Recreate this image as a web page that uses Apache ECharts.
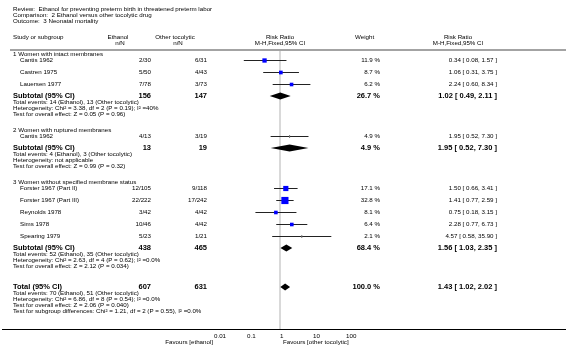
<!DOCTYPE html>
<html>
<head>
<meta charset="utf-8">
<script src="https://cdn.jsdelivr.net/npm/echarts@6/dist/echarts.min.js"></script>
<style>
  html, body { margin: 0; padding: 0; background: #fff; }
  #grafico { width: 566px; height: 348px; }
</style>
</head>
<body>
<div id="grafico"></div>
<script>
// ---- data ----
var groupNames = ['1 Women with intact membranes', '2 Women with ruptured membranes', '3 Women without specified membrane status'];
var studyNames = ['Cantis 1962', 'Castren 1975', 'Lauersen 1977', 'Cantis 1962', 'Forster 1967 (Part II)', 'Forster 1967 (Part III)', 'Reynolds 1978', 'Sims 1978', 'Spearing 1979'];
var studyGroup = [0, 0, 0, 1, 2, 2, 2, 2, 2];
var ethanolEvents = ['2/30', '5/50', '7/78', '4/13', '12/105', '22/222', '3/42', '10/46', '5/23'];
var otherEvents = ['6/31', '4/43', '3/73', '3/19', '9/118', '17/242', '4/42', '4/42', '1/21'];
var studyWeight = [11.9, 8.7, 6.2, 4.9, 17.1, 32.8, 8.1, 6.4, 2.1];
var studyRR = [0.34, 1.06, 2.24, 1.95, 1.50, 1.41, 0.75, 2.28, 4.57];
var studyLow = [0.08, 0.31, 0.60, 0.52, 0.66, 0.77, 0.18, 0.77, 0.58];
var studyHigh = [1.57, 3.75, 8.34, 7.30, 3.41, 2.59, 3.15, 6.73, 35.90];

var subLabels = ['Subtotal (95% CI)', 'Subtotal (95% CI)', 'Subtotal (95% CI)', 'Total (95% CI)'];
var subEthanolN = [156, 13, 438, 607];
var subOtherN = [147, 19, 465, 631];
var subWeight = [26.7, 4.9, 68.4, 100.0];
var subRR = [1.02, 1.95, 1.56, 1.43];
var subLow = [0.49, 0.52, 1.03, 1.02];
var subHigh = [2.11, 7.30, 2.35, 2.02];
var subNotes = [
  ['Total events: 14 (Ethanol), 13 (Other tocolytic)', 'Heterogeneity: Chi² = 3.38, df = 2 (P = 0.19); I² =40%', 'Test for overall effect: Z = 0.05 (P = 0.96)'],
  ['Total events: 4 (Ethanol), 3 (Other tocolytic)', 'Heterogeneity: not applicable', 'Test for overall effect: Z = 0.99 (P = 0.32)'],
  ['Total events: 52 (Ethanol), 35 (Other tocolytic)', 'Heterogeneity: Chi² = 2.63, df = 4 (P = 0.62); I² =0.0%', 'Test for overall effect: Z = 2.12 (P = 0.034)'],
  ['Total events: 70 (Ethanol), 51 (Other tocolytic)', 'Heterogeneity: Chi² = 6.86, df = 8 (P = 0.54); I² =0.0%', 'Test for overall effect: Z = 2.06 (P = 0.040)', 'Test for subgroup differences: Chi² = 1.21, df = 2 (P = 0.55), I² =0.0%']
];
var tickLabels = ['0.01', '0.1', '1', '10', '100'];

// ---- layout ----
var FONT = "'Liberation Sans', Arial, sans-serif";
var SMALL = 6.2, BIG = 7.5;
var texts = [];
var studyRows = [];
var subRows = [];
function t(s, x, y, align, size, bold) {
  texts.push({ s: s, x: x, y: y, align: align || 'left', size: size || SMALL, bold: !!bold });
}
function fmtCI(i, rr, lo, hi) {
  return rr[i].toFixed(2) + ' [ ' + lo[i].toFixed(2) + ', ' + hi[i].toFixed(2) + ' ]';
}

t('Review:  Ethanol for preventing preterm birth in threatened preterm labor', 13, 9);
t('Comparison:  2 Ethanol versus other tocolytic drug', 13, 15);
t('Outcome:  3 Neonatal mortality', 13, 21);
t('Study or subgroup', 13, 37);
t('Ethanol', 118, 37, 'center'); t('n/N', 120, 43.5, 'center');
t('Other tocolytic', 175, 37, 'center'); t('n/N', 178, 43.5, 'center');
t('Risk Ratio', 280, 37, 'center'); t('M-H,Fixed,95% CI', 280, 43.5, 'center');
t('Weight', 355, 37);
t('Risk Ratio', 458, 37, 'center'); t('M-H,Fixed,95% CI', 458, 43.5, 'center');

function subtotal(k, y) {
  t(subLabels[k], 13, y, 'left', BIG, true);
  t(String(subEthanolN[k]), 151, y, 'right', BIG, true);
  t(String(subOtherN[k]), 207, y, 'right', BIG, true);
  t(subWeight[k].toFixed(1) + ' %', 380, y, 'right', BIG, true);
  t(fmtCI(k, subRR, subLow, subHigh), 497, y, 'right', BIG, true);
  subRows.push({ k: k, y: y });
  subNotes[k].forEach(function (n) { y += 6; t(n, 13, y); });
  return y;
}

var y = 54;
for (var g = 0; g < groupNames.length; g++) {
  t(groupNames[g], 13, y);
  y += 6;
  for (var i = 0; i < studyNames.length; i++) {
    if (studyGroup[i] !== g) continue;
    t(studyNames[i], 20, y);
    t(ethanolEvents[i], 151, y, 'right');
    t(otherEvents[i], 207, y, 'right');
    t(studyWeight[i].toFixed(1) + ' %', 380, y, 'right');
    t(fmtCI(i, studyRR, studyLow, studyHigh), 497, y, 'right');
    studyRows.push({ i: i, y: y });
    y += 12;
  }
  y = subtotal(g, y) + 16;
}
subtotal(3, y + 5);

t('Favours [ethanol]', 213, 342, 'right');
t('Favours [other tocolytic]', 283, 342);

var rules = [
  [10, 50, 566, 50, '#a3a3a3', 2],
  [2, 329.5, 566, 329.5, '#000', 1]
];

// ---- render helpers ----
function renderText(params, api) {
  var d = texts[params.dataIndex];
  var p = api.coord([d.x, d.y]);
  return {
    type: 'text', x: p[0], y: p[1], silent: true,
    style: {
      text: d.s, fill: '#000',
      align: d.align, textAlign: d.align,
      verticalAlign: 'middle', textVerticalAlign: 'middle',
      font: (d.bold ? 'bold ' : '') + d.size + 'px ' + FONT
    }
  };
}
function renderRule(params, api) {
  var r = rules[params.dataIndex];
  var a = api.coord([r[0], r[1]]), b = api.coord([r[2], r[3]]);
  return { type: 'line', shape: { x1: a[0], y1: a[1], x2: b[0], y2: b[1] }, style: { stroke: r[4], lineWidth: r[5] } };
}
function renderStudy(params, api) {
  var rr = api.value(0), yy = api.value(1), lo = api.value(2), hi = api.value(3), w = api.value(4);
  var a = api.coord([lo, yy]), b = api.coord([hi, yy]), c = api.coord([rr, yy]);
  var kids = [{ type: 'line', shape: { x1: a[0], y1: a[1] + 0.5, x2: b[0], y2: b[1] + 0.5 }, style: { stroke: '#222', lineWidth: 1 } }];
  if (w >= 5) {
    var s = Math.max(3.6, 1.25 * Math.sqrt(w));
    kids.push({ type: 'rect', shape: { x: c[0] - s / 2, y: c[1] + 0.5 - s / 2, width: s, height: s }, style: { fill: '#0000ff' } });
  } else {
    kids.push({ type: 'rect', shape: { x: c[0] - 0.5, y: c[1] - 1, width: 1, height: 3 }, style: { fill: '#777' } });
  }
  return { type: 'group', children: kids };
}
function renderDiamond(params, api) {
  var rr = api.value(0), yy = api.value(1), lo = api.value(2), hi = api.value(3);
  var a = api.coord([lo, yy]), b = api.coord([hi, yy]), c = api.coord([rr, yy]);
  var h = 3.5;
  return {
    type: 'polygon',
    shape: { points: [[a[0], a[1]], [c[0], c[1] - h], [b[0], b[1]], [c[0], c[1] + h]] },
    style: { fill: '#000' }
  };
}

var chartDom = document.getElementById('grafico');
var myChart = echarts.init(chartDom, null, { renderer: 'canvas' });
var option = {
  animation: false,
  backgroundColor: '#fff',
  grid: [
    { left: 0, top: 0, width: 566, height: 348 },
    { left: 214, top: 51, width: 132, height: 278 }
  ],
  xAxis: [
    { gridIndex: 0, type: 'value', min: 0, max: 566, show: false },
    {
      gridIndex: 1, type: 'log', logBase: 10, min: 0.01, max: 100,
      axisLine: { show: false }, axisTick: { show: false }, splitLine: { show: false },
      axisLabel: {
        margin: 4, fontSize: SMALL, fontFamily: FONT, color: '#000', align: 'left',
        formatter: function (v) { return tickLabels[Math.round(Math.log10(v)) + 2]; }
      }
    }
  ],
  yAxis: [
    { gridIndex: 0, type: 'value', min: 0, max: 348, inverse: true, show: false },
    { gridIndex: 1, type: 'value', min: 51, max: 329, inverse: true, show: false }
  ],
  series: [
    {
      type: 'line', xAxisIndex: 1, yAxisIndex: 1, data: [[1, 51], [1, 329]],
      symbol: 'none', silent: true, z: 1,
      lineStyle: { color: '#d9d9d9', width: 2 }
    },
    {
      type: 'custom', xAxisIndex: 0, yAxisIndex: 0, silent: true, z: 2,
      renderItem: renderRule,
      data: rules.map(function (r) { return [r[0], r[1]]; })
    },
    {
      type: 'custom', xAxisIndex: 1, yAxisIndex: 1, silent: true, z: 3,
      renderItem: renderStudy,
      encode: { x: [0, 2, 3], y: 1 },
      data: studyRows.map(function (r) { return [studyRR[r.i], r.y, studyLow[r.i], studyHigh[r.i], studyWeight[r.i]]; })
    },
    {
      type: 'custom', xAxisIndex: 1, yAxisIndex: 1, silent: true, z: 3,
      renderItem: renderDiamond,
      encode: { x: [0, 2, 3], y: 1 },
      data: subRows.map(function (r) { return [subRR[r.k], r.y, subLow[r.k], subHigh[r.k]]; })
    },
    {
      type: 'custom', xAxisIndex: 0, yAxisIndex: 0, silent: true, z: 4,
      renderItem: renderText,
      data: texts.map(function (d) { return [d.x, d.y]; })
    }
  ]
};

option && myChart.setOption(option);
</script>
</body>
</html>
